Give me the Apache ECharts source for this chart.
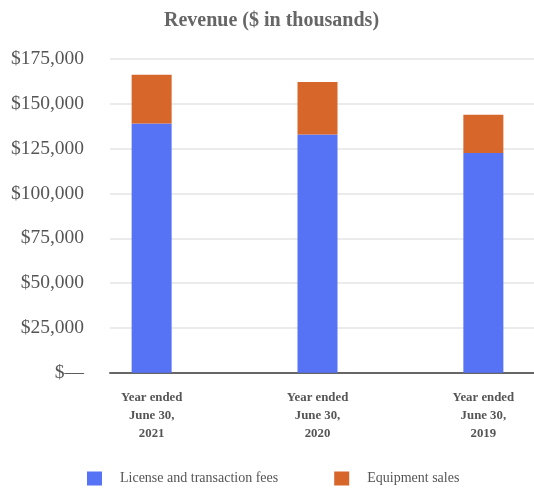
<!DOCTYPE html>
<html>
<head>
<meta charset="utf-8">
<script src="https://cdn.jsdelivr.net/npm/echarts@6/dist/echarts.min.js"></script>
<style>
  html, body { margin: 0; padding: 0; background: #fff; }
  #chart { width: 534px; height: 494px; }
</style>
</head>
<body>
<div id="chart"></div>
<script>
// Fiscal years shown, newest first
const categories = ['Year ended\nJune 30,\n2021', 'Year ended\nJune 30,\n2020', 'Year ended\nJune 30,\n2019'];
// Revenue in thousands of dollars
const licenseFees = [139000, 132900, 122600];
const equipmentSales = [27200, 29200, 21300];
const seriesNames = ['License and transaction fees', 'Equipment sales'];
// Y tick labels, bottom to top
const yTickLabels = ['$—', '$25,000', '$50,000', '$75,000', '$100,000', '$125,000', '$150,000', '$175,000'];

const serif = 'Liberation Serif';
const yMax = 175000, yStep = 25000;
const plotTop = 59, plotBottom = 121.3;

const chart = echarts.init(document.getElementById('chart'), null, { renderer: 'canvas' });
chart.setOption({
  animation: false,
  backgroundColor: '#ffffff',
  title: {
    text: 'Revenue ($ in thousands)',
    left: 159,
    top: 6,
    textStyle: { fontFamily: serif, fontSize: 20, fontWeight: 'bold', color: '#666666' }
  },
  legend: {
    left: 82,
    top: 466.5,
    itemWidth: 15,
    itemHeight: 14,
    itemGap: 56,
    icon: 'rect',
    textStyle: { fontFamily: serif, fontSize: 14, color: '#555555', padding: [0, 0, 0, 13] },
    data: seriesNames
  },
  grid: [
    // bar placement grid (categories spaced wider than the visible axis)
    { left: 68.7, width: 497.6, top: plotTop, bottom: plotBottom, outerBoundsMode: 'none' },
    // visible axis grid with gridlines and value labels
    { left: 110, right: 0, top: plotTop, bottom: plotBottom, outerBoundsMode: 'none' }
  ],
  xAxis: [
    {
      gridIndex: 0,
      type: 'category',
      data: categories,
      axisLine: { show: false },
      axisTick: { show: false },
      axisLabel: {
        fontFamily: serif, fontSize: 12.8, fontWeight: 'bold', color: '#555555',
        lineHeight: 18, margin: 16, interval: 0
      }
    },
    {
      gridIndex: 1,
      type: 'value',
      min: 0, max: 1,
      axisLine: { show: true, onZero: false, lineStyle: { color: '#666666', width: 2 } },
      axisTick: { show: false },
      axisLabel: { show: false },
      splitLine: { show: false }
    }
  ],
  yAxis: [
    {
      gridIndex: 0,
      type: 'value',
      min: 0, max: yMax, interval: yStep,
      show: false,
      splitLine: { show: false }
    },
    {
      gridIndex: 1,
      type: 'value',
      min: 0, max: yMax, interval: yStep,
      axisLine: { show: false },
      axisTick: { show: false },
      axisLabel: {
        fontFamily: serif, fontSize: 19.5, color: '#555555', margin: 26,
        formatter: (v) => yTickLabels[Math.round(v / yStep)]
      },
      splitLine: { show: true, lineStyle: { color: '#e4e4e4', width: 1.5 } }
    }
  ],
  series: [
    {
      name: seriesNames[0],
      type: 'bar',
      xAxisIndex: 0, yAxisIndex: 0,
      stack: 'revenue',
      barWidth: 40,
      itemStyle: { color: '#5672F5' },
      data: licenseFees
    },
    {
      name: seriesNames[1],
      type: 'bar',
      xAxisIndex: 0, yAxisIndex: 0,
      stack: 'revenue',
      barWidth: 40,
      itemStyle: { color: '#D7662B' },
      data: equipmentSales
    }
  ]
});
</script>
</body>
</html>
